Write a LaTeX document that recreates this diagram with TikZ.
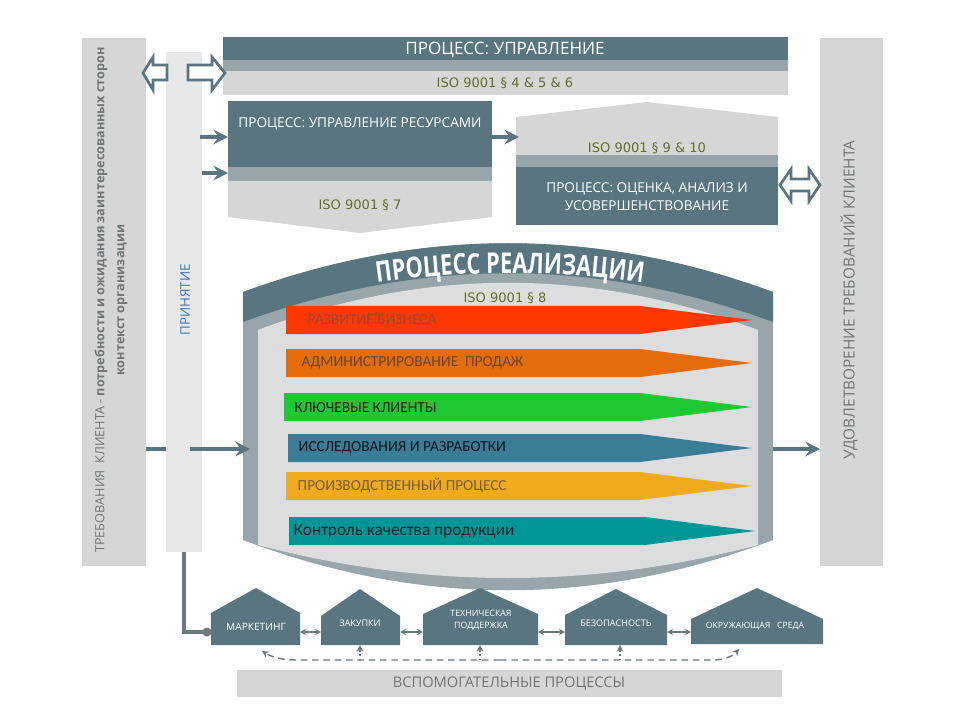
\documentclass[tikz,border=0pt]{standalone}
\usepackage{fontspec}
\setmainfont{Open Sans}
\newfontfamily\isofont{DejaVu Sans}
\newfontfamily\lanefont{Carlito}
\newfontfamily\titlefont[FakeStretch=0.76]{Open Sans}
\usetikzlibrary{arrows.meta,decorations.text}

\definecolor{slate}{RGB}{88,117,128}
\definecolor{rim}{RGB}{152,166,171}
\definecolor{panel}{RGB}{214,214,214}
\definecolor{pale}{RGB}{232,232,232}
\definecolor{inner}{RGB}{219,221,222}
\definecolor{olive}{RGB}{98,112,40}
\definecolor{greytext}{RGB}{112,117,120}
\definecolor{wire}{RGB}{110,120,125}
\definecolor{accent}{RGB}{60,120,185}
\definecolor{barred}{RGB}{255,55,0}
\definecolor{barorange}{RGB}{228,108,10}
\definecolor{bargreen}{RGB}{30,200,50}
\definecolor{barblue}{RGB}{58,125,150}
\definecolor{baryellow}{RGB}{240,170,30}
\definecolor{barteal}{RGB}{0,150,150}

\tikzstyle{iso}=[font=\isofont\fontsize{9.8}{11}\selectfont, text=olive]
\tikzstyle{boxtext}=[font=\fontsize{10.2}{13.5}\selectfont, text=white, align=center]
\tikzstyle{sidetext}=[font=\fontsize{9.5}{15}\selectfont, text=greytext, align=center, rotate=90]
\tikzstyle{flow}=[line width=2.4pt, draw=slate, -{Stealth[length=11pt,width=11pt,inset=4pt]}]
\tikzstyle{hollow}=[line width=2pt, draw=slate, fill=white]
\tikzstyle{lane}=[font=\lanefont\fontsize{11.5}{13}\selectfont, anchor=west]
\tikzstyle{house}=[fill=slate]
\tikzstyle{hlabel}=[font=\fontsize{6.8}{9}\selectfont, text=white, align=center]
\tikzstyle{swap}=[draw=wire, line width=1.2pt, {Stealth[length=4.5pt,width=4.5pt]}-{Stealth[length=4.5pt,width=4.5pt]}]
\tikzstyle{link}=[draw=wire, line width=1.1pt, dash pattern=on 5pt off 3.5pt]

\begin{document}
\begin{tikzpicture}[x=0.75pt,y=-0.75pt]
  \useasboundingbox (0,0) rectangle (960,720);

  % side columns
  \fill[panel] (82,38) rectangle (146,566);
  \fill[pale] (166,52) rectangle (202,552);
  \fill[panel] (820,38) rectangle (883,566);
  \node[sidetext] (demand) at (111,300)
    {ТРЕБОВАНИЯ\ \ КЛИЕНТА\ - \textbf{потребности и ожидания заинтересованных сторон}\\
     \textbf{контекст организации}};
  \node[rotate=90, text=accent, font=\fontsize{10}{12}\selectfont] (accept) at (185,300) {ПРИНЯТИЕ};
  \node[rotate=90, text=greytext, font=\fontsize{11.5}{13}\selectfont] (satisfy) at (849,300)
    {УДОВЛЕТВОРЕНИЕ ТРЕБОВАНИЙ КЛИЕНТА};

  % management
  \fill[slate] (223,37) rectangle (788,60);
  \fill[rim] (223,60) rectangle (788,71);
  \fill[panel] (223,71) rectangle (788,95);
  \node[boxtext, font=\fontsize{12.8}{14}\selectfont] (mgmt) at (505,50) {ПРОЦЕСС: УПРАВЛЕНИЕ};
  \node[iso] (mgmt-iso) at (505,83) {ISO 9001 § 4 \& 5 \& 6};

  \draw[hollow] (143,73) -- (153,57) -- (153,65) -- (167,65) -- (167,80) -- (153,80) -- (153,90) -- cycle;
  \draw[hollow] (225,73) -- (212,57) -- (212,65) -- (188,65) -- (188,80) -- (212,80) -- (212,90) -- cycle;

  % resources
  \fill[slate] (228,101) rectangle (492,167);
  \fill[rim] (228,167) rectangle (492,181);
  \fill[panel] (228,181) -- (492,181) -- (492,217) -- (360,233) -- (228,217) -- cycle;
  \node[boxtext] (res) at (360,124) {ПРОЦЕСС: УПРАВЛЕНИЕ РЕСУРСАМИ};
  \node[iso] (res-iso) at (360,205) {ISO 9001 § 7};

  % evaluation
  \fill[panel] (516,155) -- (516,117) -- (647,102) -- (778,117) -- (778,155) -- cycle;
  \fill[rim] (516,155) rectangle (778,167);
  \fill[slate] (516,167) rectangle (778,225);
  \node[iso] (eval-iso) at (647,148) {ISO 9001 § 9 \& 10};
  \node[boxtext] (eval) at (647,197) {ПРОЦЕСС: ОЦЕНКА, АНАЛИЗ И\\УСОВЕРШЕНСТВОВАНИЕ};

  \draw[hollow] (780,185) -- (791,169) -- (791,179) -- (809,179) -- (809,169) -- (820,185)
    -- (809,201) -- (809,191) -- (791,191) -- (791,201) -- cycle;

  \coordinate (acc-a) at (200,137);
  \coordinate (acc-b) at (202,173);
  \coordinate (res-w1) at (228,137);
  \coordinate (res-w2) at (228,173);
  \coordinate (res-e) at (492,137);
  \coordinate (eval-w) at (519,137);
  \draw[flow] (acc-a) -- (res-w1);
  \draw[flow] (acc-b) -- (res-w2);
  \draw[flow] (res-e) -- (eval-w);

  % realisation cylinder
  \fill[rim] (243,292) .. controls (420,227) and (596,227) .. (773,292) -- (773,540)
    .. controls (596,607) and (420,607) .. (243,540) -- cycle;
  \fill[inner] (258,330) .. controls (425,267) and (591,267) .. (758,330) -- (758,545)
    .. controls (591,589) and (425,589) .. (258,545) -- cycle;
  \fill[slate] (243,292) .. controls (420,227) and (596,227) .. (773,292) -- (773,322)
    .. controls (596,257) and (420,257) .. (243,322) -- cycle;
  \path[decorate, decoration={text along path, text align=center, text color=white,
    text={|\titlefont\bfseries\fontsize{21.5}{25}\selectfont|ПРОЦЕСС РЕАЛИЗАЦИИ}}]
    (355,286) .. controls (458,269) and (562,269) .. (665,286);
  \node[iso] (real-iso) at (505,298) {ISO 9001 § 8};

  \fill[barred] (286,306) -- (640,306) -- (752,320) -- (640,334) -- (286,334) -- cycle;
  \node[lane, text={rgb,255:red,150;green,70;blue,60}] (dev) at (303,320) {РАЗВИТИЕ БИЗНЕСА};
  \fill[barorange] (286,349) -- (640,349) -- (752,363) -- (640,377) -- (286,377) -- cycle;
  \node[lane, text={rgb,255:red,105;green,70;blue,45}] (sales) at (297,363) {АДМИНИСТРИРОВАНИЕ\ \ ПРОДАЖ};
  \fill[bargreen] (284,393) -- (640,393) -- (752,407) -- (640,421) -- (284,421) -- cycle;
  \node[lane, text={rgb,255:red,30;green,30;blue,30}] (keyacc) at (290,408) {КЛЮЧЕВЫЕ КЛИЕНТЫ};
  \fill[barblue] (288,434) -- (640,434) -- (752,448) -- (640,462) -- (288,462) -- cycle;
  \node[lane, text={rgb,255:red,15;green,22;blue,28}] (rnd) at (294,448) {ИССЛЕДОВАНИЯ И РАЗРАБОТКИ};
  \fill[baryellow] (286,472) -- (640,472) -- (752,486) -- (640,500) -- (286,500) -- cycle;
  \node[lane, text={rgb,255:red,120;green,92;blue,60}] (prod) at (293,486) {ПРОИЗВОДСТВЕННЫЙ ПРОЦЕСС};
  \fill[barteal] (289,517) -- (645,517) -- (755,531) -- (645,545) -- (289,545) -- cycle;
  \node[lane, font=\lanefont\fontsize{13}{15}\selectfont, text={rgb,255:red,20;green,40;blue,42}] (qc) at (289,531)
    {Контроль\ качества\ продукции};

  \coordinate (demand-e) at (146,449);
  \coordinate (accept-w) at (166,449);
  \coordinate (accept-e) at (190,449);
  \coordinate (real-w) at (250,449);
  \coordinate (real-e) at (773,449);
  \coordinate (satisfy-w) at (820,449);
  \draw[line width=2.4pt, slate] (demand-e) -- (accept-w);
  \draw[flow] (accept-e) -- (real-w);
  \draw[flow] (real-e) -- (satisfy-w);

  % support processes
  \fill[house] (211,645) -- (211,613) -- (256,588) -- (300,613) -- (300,645) -- cycle;
  \fill[house] (321,645) -- (321,616) -- (360,589) -- (400,616) -- (400,645) -- cycle;
  \fill[house] (423,645) -- (423,614) -- (480,588) -- (538,614) -- (538,645) -- cycle;
  \fill[house] (565,645) -- (565,615) -- (616,589) -- (667,615) -- (667,645) -- cycle;
  \fill[house] (691,644) -- (691,619) -- (757,588) -- (823,619) -- (823,644) -- cycle;
  \node[hlabel, font=\fontsize{7.6}{9}\selectfont] (mkt) at (256,627) {МАРКЕТИНГ};
  \node[hlabel] (buy) at (360,623) {ЗАКУПКИ};
  \node[hlabel, font=\fontsize{6.6}{9.5}\selectfont] (tech) at (481,620) {ТЕХНИЧЕСКАЯ\\ПОДДЕРЖКА};
  \node[hlabel] (safe) at (616,623) {БЕЗОПАСНОСТЬ};
  \node[hlabel, font=\fontsize{6.5}{9}\selectfont] (env) at (755,626) {ОКРУЖАЮЩАЯ\ \ \ СРЕДА};

  \coordinate (mkt-e) at (300,632);
  \coordinate (buy-w) at (321,632);
  \coordinate (buy-e) at (400,632);
  \coordinate (tech-w) at (423,632);
  \coordinate (tech-e) at (538,632);
  \coordinate (safe-w) at (565,632);
  \coordinate (safe-e) at (667,632);
  \coordinate (env-w) at (691,632);
  \draw[swap] (mkt-e) -- (buy-w);
  \draw[swap] (buy-e) -- (tech-w);
  \draw[swap] (tech-e) -- (safe-w);
  \draw[swap] (safe-e) -- (env-w);

  \coordinate (accept-s) at (184,552);
  \coordinate (mkt-w) at (207,632);
  \draw[wire, line width=2.4pt] (accept-s) |- (mkt-w);
  \fill[wire] (mkt-w) circle (4.5);

  \coordinate (link-l) at (262,651);
  \coordinate (link-r) at (739,649);
  \draw[link, -{Stealth[length=5pt,width=5pt]}] (500,660) -- (295,660) .. controls (280,660) and (270,656) .. (link-l);
  \draw[link, -{Stealth[length=5pt,width=5pt]}] (500,660) -- (712,660) .. controls (725,660) and (733,656) .. (link-r);
  \draw[wire, line width=1.1pt, dotted, -{Stealth[length=5pt,width=5pt]}] (360,660) -- (360,645);
  \draw[wire, line width=1.1pt, dotted, -{Stealth[length=5pt,width=5pt]}] (480,660) -- (480,645);
  \draw[wire, line width=1.1pt, dotted, -{Stealth[length=5pt,width=5pt]}] (620,660) -- (620,645);

  \fill[panel] (237,670) rectangle (782,697);
  \node[text=greytext, font=\fontsize{11}{13}\selectfont] (support) at (509,684) {ВСПОМОГАТЕЛЬНЫЕ ПРОЦЕССЫ};
\end{tikzpicture}
\end{document}
